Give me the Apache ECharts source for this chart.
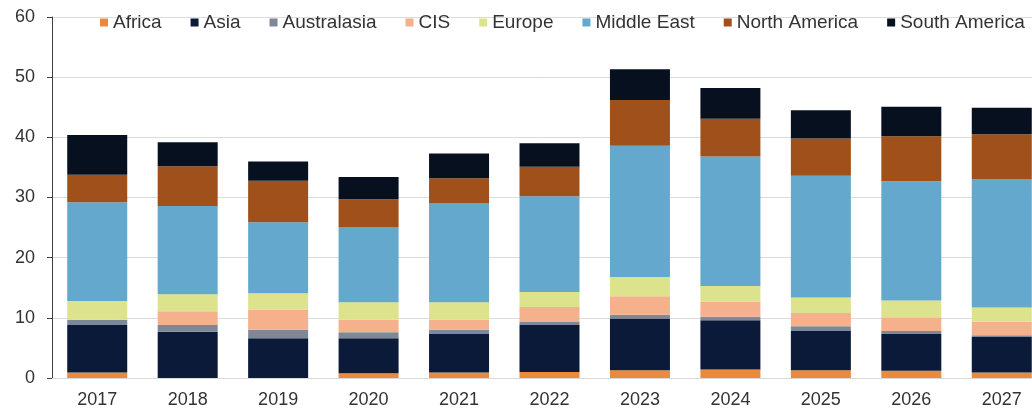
<!DOCTYPE html>
<html>
<head>
<meta charset="utf-8">
<script src="https://cdn.jsdelivr.net/npm/echarts@6/dist/echarts.min.js"></script>
<style>
html,body{margin:0;padding:0;background:#fff;}
#chart{width:1032px;height:411px;}
</style>
</head>
<body>
<div id="chart"></div>
<script>
var years = ['2017','2018','2019','2020','2021','2022','2023','2024','2025','2026','2027'];
var africa       = [0.9, 0.0, 0.0, 0.8, 0.9, 1.0, 1.3, 1.4, 1.3, 1.2, 0.9];
var asia         = [7.9, 7.7, 6.6, 5.8, 6.4, 7.8, 8.6, 8.2, 6.6, 6.1, 5.9];
var australasia  = [0.9, 1.1, 1.4, 1.0, 0.7, 0.5, 0.6, 0.6, 0.7, 0.5, 0.3];
var cis          = [0.0, 2.3, 3.4, 2.1, 1.7, 2.5, 3.1, 2.5, 2.2, 2.3, 2.3];
var europe       = [3.1, 2.8, 2.7, 2.9, 2.9, 2.5, 3.2, 2.6, 2.6, 2.8, 2.3];
var middleEast   = [16.4, 14.7, 11.8, 12.4, 16.4, 15.9, 21.8, 21.5, 20.2, 19.8, 21.3];
var northAmerica = [4.6, 6.6, 6.9, 4.7, 4.2, 4.9, 7.6, 6.3, 6.2, 7.5, 7.5];
var southAmerica = [6.6, 4.0, 3.2, 3.7, 4.1, 3.9, 5.1, 5.1, 4.7, 4.9, 4.4];
var yTicks = [0, 10, 20, 30, 40, 50, 60];

var seriesDefs = [
  ['Africa', africa, '#E98A3D'],
  ['Asia', asia, '#0B1A38'],
  ['Australasia', australasia, '#7D8898'],
  ['CIS', cis, '#F5B08C'],
  ['Europe', europe, '#DDE38C'],
  ['Middle East', middleEast, '#64A9CD'],
  ['North America', northAmerica, '#A0501A'],
  ['South America', southAmerica, '#07101E']
];

var chart = echarts.init(document.getElementById('chart'), null, {renderer:'canvas'});
var font = 'Liberation Sans, Arial, sans-serif';
chart.setOption({
  animation: false,
  color: seriesDefs.map(function(d){return d[2];}),
  legend: {
    left: 100, top: 13, width: 1000, padding: 0,
    itemWidth: 8, itemHeight: 8, itemGap: 29,
    icon: 'rect',
    textStyle: {fontFamily: font, fontSize: 19, color: '#333'},
    data: seriesDefs.map(function(d){return d[0];})
  },
  grid: {left: 52, width: 995, top: 17, bottom: 33, containLabel: false, outerBoundsMode: 'none'},
  xAxis: {
    type: 'category',
    data: years,
    axisLine: {lineStyle: {color: '#d9d9d9', width: 1}},
    axisTick: {show: false},
    axisLabel: {fontFamily: font, fontSize: 18, color: '#333', margin: 13}
  },
  yAxis: {
    type: 'value',
    min: yTicks[0], max: yTicks[yTicks.length-1], interval: 10,
    axisLine: {show: true, lineStyle: {color: '#404040', width: 1}},
    axisTick: {show: true, length: 5, lineStyle: {color: '#404040'}},
    axisLabel: {fontFamily: font, fontSize: 18, color: '#333', margin: 17},
    splitLine: {lineStyle: {color: '#dcdcdc', width: 1}}
  },
  series: seriesDefs.map(function(d){
    return {
      name: d[0], type: 'bar', stack: 'total', data: d[1],
      barWidth: 60,
      itemStyle: {color: d[2]}
    };
  })
});
</script>
</body>
</html>
